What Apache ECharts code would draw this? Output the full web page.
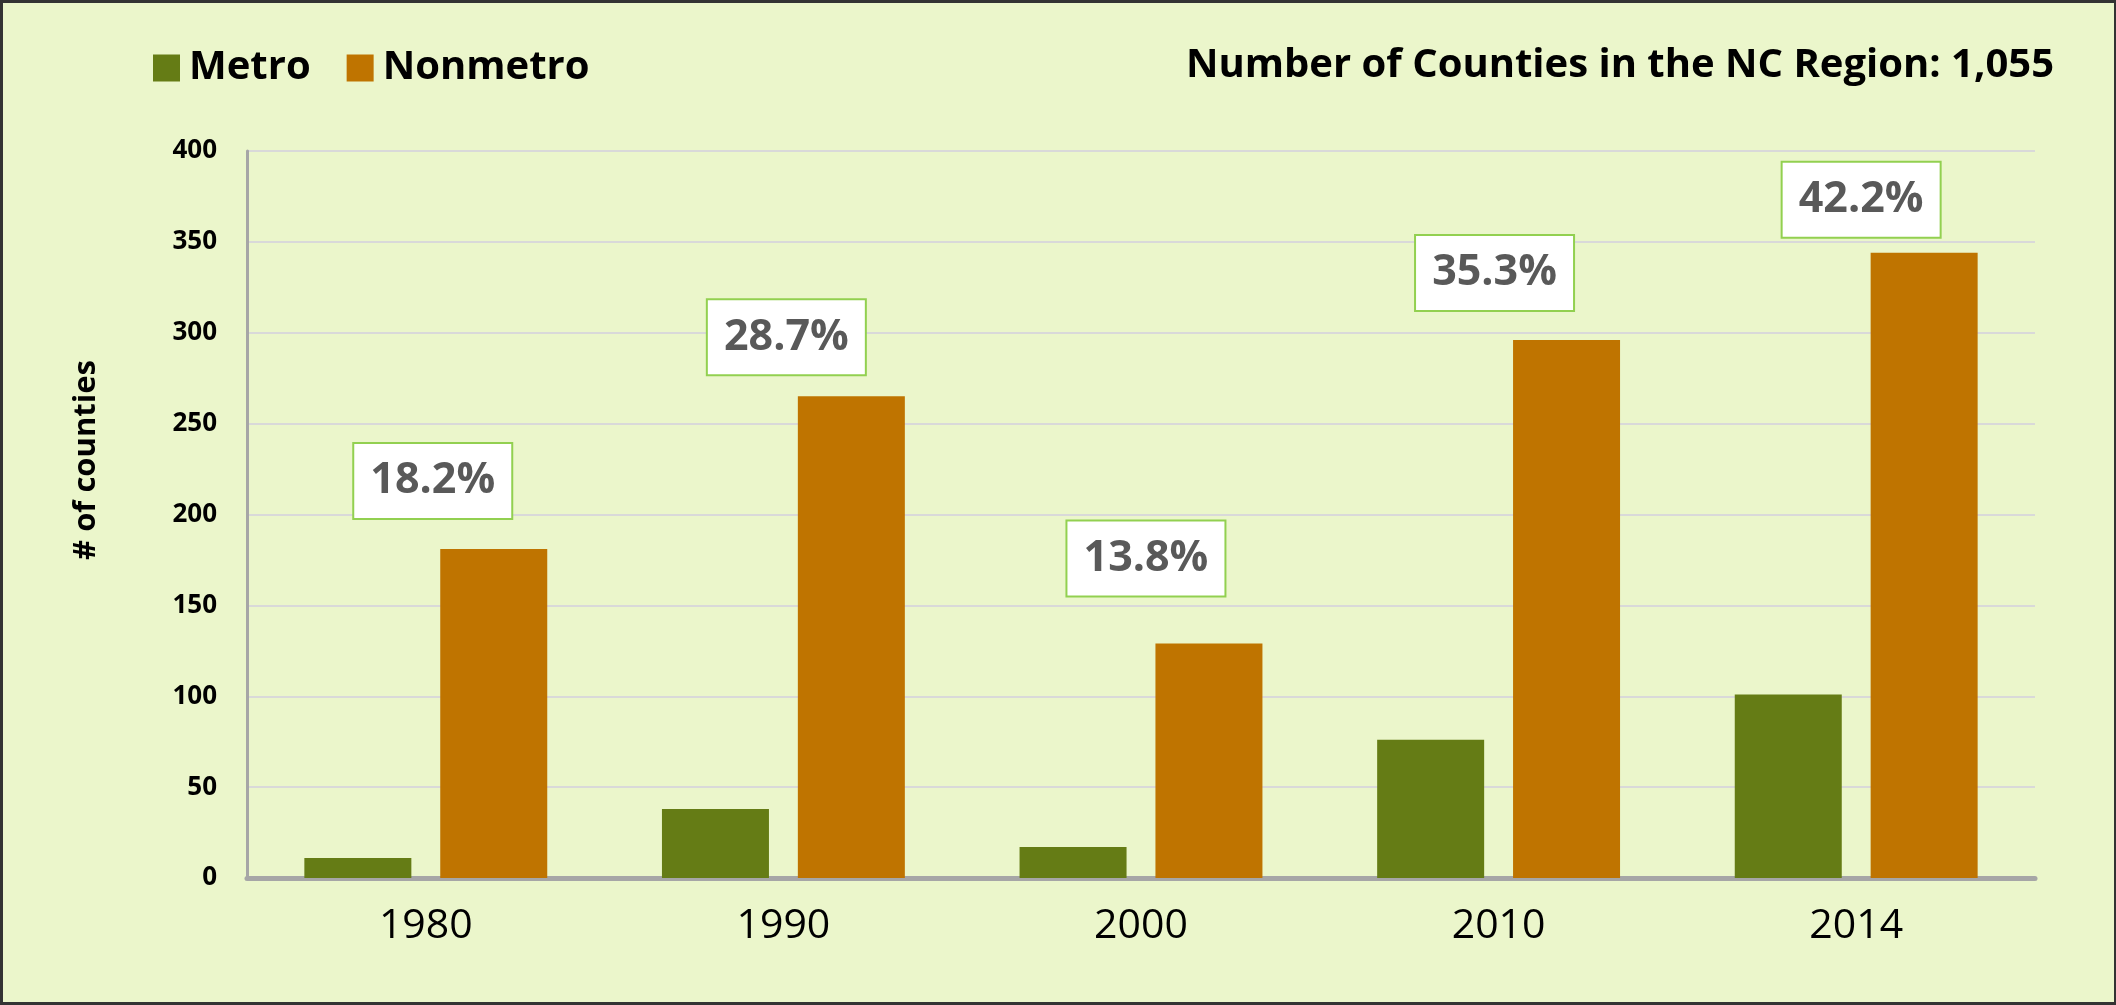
<!DOCTYPE html>
<html>
<head>
<meta charset="utf-8">
<script src="https://cdn.jsdelivr.net/npm/echarts@6/dist/echarts.min.js"></script>
<style>
  html, body { margin: 0; padding: 0; background: #EBF6CB; }
  #wrap { position: relative; width: 2116px; height: 1005px; }
  #chart { position: absolute; left: 0; top: 0; width: 2116px; height: 1005px; }
  #frame { position: absolute; left: 0; top: 0; width: 2116px; height: 1005px; box-sizing: border-box;
           border: 3px solid #333; border-right-width: 2px; pointer-events: none; }
</style>
</head>
<body>
<div id="wrap">
  <div id="chart"></div>
  <div id="frame"></div>
</div>
<script>
// ---- data ----
const years = ['1980', '1990', '2000', '2010', '2014'];
const metro = [11, 38, 17, 76, 101];
const nonmetro = [181, 265, 129, 296, 344];
const shareLabels = ['18.2%', '28.7%', '13.8%', '35.3%', '42.2%'];
const yTicks = [0, 50, 100, 150, 200, 250, 300, 350, 400];
const titleText = 'Number of Counties in the NC Region: 1,055';
const yName = '# of counties';

// ---- layout (annotation box placement, px) ----
const labelShift = [[-61, -31], [-65, -22], [-63, -48], [-72, -30], [-63, -16]];

const FONT = '"Open Sans", "Noto Sans", sans-serif';
const chart = echarts.init(document.getElementById('chart'), null, { renderer: 'canvas' });

chart.setOption({
  backgroundColor: '#EBF6CB',
  animation: false,
  title: {
    text: titleText,
    right: 62,
    top: 46,
    padding: 0,
    textStyle: { fontFamily: FONT, fontWeight: 'bold', fontSize: 40, color: '#000' }
  },
  legend: {
    left: 153,
    top: 48,
    padding: 0,
    icon: 'rect',
    itemWidth: 27,
    itemHeight: 27,
    itemGap: 36,
    textStyle: { fontFamily: FONT, fontWeight: 'bold', fontSize: 40, color: '#000', padding: [0, 0, 0, 4] },
    data: ['Metro', 'Nonmetro']
  },
  grid: { left: 247, right: 81, top: 151, bottom: 127, containLabel: false },
  graphic: [{
    type: 'text',
    x: 86, y: 460,
    rotation: Math.PI / 2,
    style: {
      text: yName,
      font: 'bold 31px ' + FONT,
      fill: '#000',
      textAlign: 'center',
      textVerticalAlign: 'middle'
    }
  }],
  xAxis: {
    type: 'category',
    data: years,
    axisLine: { lineStyle: { color: '#A6A6A6', width: 5 } },
    axisTick: { show: false },
    axisLabel: { fontFamily: FONT, fontSize: 41, color: '#000', margin: 28 }
  },
  yAxis: {
    type: 'value',
    min: yTicks[0],
    max: yTicks[yTicks.length - 1],
    interval: yTicks[1] - yTicks[0],
    axisLine: { show: true, lineStyle: { color: '#A6A6A6', width: 3 } },
    axisTick: { show: false },
    splitLine: { lineStyle: { color: '#D9D9D9', width: 2 } },
    axisLabel: { fontFamily: FONT, fontWeight: 'bold', fontSize: 26, color: '#000', margin: 30 }
  },
  series: [
    {
      name: 'Metro',
      type: 'bar',
      data: metro,
      barWidth: 107,
      barGap: '27%',
      itemStyle: { color: '#657C15' }
    },
    {
      name: 'Nonmetro',
      type: 'bar',
      data: nonmetro.map((v, i) => ({ value: v, label: { offset: labelShift[i] } })),
      barWidth: 107,
      barGap: '27%',
      itemStyle: { color: '#BF7400' },
      label: {
        show: true,
        position: 'top',
        distance: 0,
        formatter: p => shareLabels[p.dataIndex],
        fontFamily: FONT,
        fontWeight: 'bold',
        fontSize: 43,
        color: '#595959',
        backgroundColor: '#FFFFFF',
        borderColor: '#92D050',
        borderWidth: 2,
        padding: 0,
        width: 157,
        height: 74,
        lineHeight: 74,
        align: 'center',
        verticalAlign: 'bottom'
      }
    }
  ]
});
</script>
</body>
</html>
